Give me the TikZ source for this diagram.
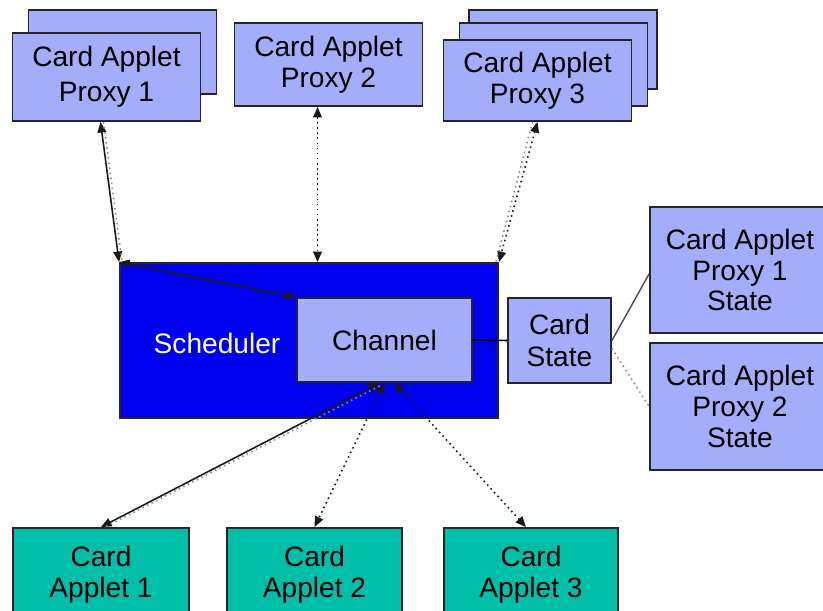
\documentclass[tikz,border=0pt]{standalone}
\usepackage{fontspec}
\setmainfont{Liberation Sans}
\usetikzlibrary{arrows.meta}
\definecolor{proxyblue}{RGB}{163,173,250}
\definecolor{schedblue}{RGB}{0,0,240}
\definecolor{appletgreen}{RGB}{0,191,168}
\begin{document}
\begin{tikzpicture}[x=0.02cm, y=-0.02cm,
	every node/.style = {draw=black!85, line width=1.1pt, align=center, inner sep=0pt,
		font=\fontsize{16}{17.5}\selectfont},
	proxy/.style = {fill=proxyblue, minimum width=3.76cm, minimum height=1.66cm},
	applet/.style = {fill=appletgreen, minimum width=3.5cm, minimum height=1.88cm},
	link/.style = {line width=0.9pt, black!90,
		{Triangle[length=6pt,width=5pt]}-{Triangle[length=6pt,width=5pt]}},
	dotlink/.style = {link, dotted},
	shade/.style = {line width=0.9pt, black!45, dotted}]
	
	\clip (0,0) rectangle (823,611);
	
	% proxies
	\node[proxy, minimum height=1.68cm] (proxy1b) at (122.5,52) {};
	\node[proxy, minimum height=1.76cm, font=\fontsize{16}{20}\selectfont] (proxy1) at (106.5,77) {Card Applet\\Proxy 1};
	\node[proxy] (proxy2) at (328.5,64.5) {Card Applet\\Proxy 2};
	\node[proxy, minimum height=1.58cm] (proxy3c) at (563,49.5) {};
	\node[proxy] (proxy3b) at (553.5,64.5) {};
	\node[proxy, minimum height=1.62cm] (proxy3) at (537.5,80.5) {Card Applet\\Proxy 3};
	
	% scheduler
	\node[fill=schedblue, minimum width=7.56cm, minimum height=3.1cm] (sched) at (309,340.5) {};
	\node[draw=none, text=white] (schedlabel) at (217,343) {Scheduler};
	\node[proxy, minimum width=3.5cm, minimum height=1.68cm] (chan) at (384.5,340) {Channel};
	\node[proxy, minimum width=2.06cm, minimum height=1.7cm, font=\fontsize{16}{18.5}\selectfont] (cstate) at (559.5,340.5) {Card\\State};
	\node[proxy, minimum width=3.6cm, minimum height=2.52cm] (pstate1) at (740,270) {Card Applet\\Proxy 1\\State};
	\node[proxy, minimum width=3.6cm, minimum height=2.54cm] (pstate2) at (740,406.5) {Card Applet\\Proxy 2\\State};
	
	% applets
	\node[applet, minimum width=3.52cm] (applet1) at (101,575) {Card\\Applet 1};
	\node[applet] (applet2) at (314.5,575) {Card\\Applet 2};
	\node[applet, minimum width=3.48cm] (applet3) at (531,575) {Card\\Applet 3};
	
	% links
	\draw[link] ([xshift=-0.12cm]proxy1.south) -- (sched.north west);
	\draw[shade] ([xshift=-0.06cm]proxy1.south) -- ([xshift=0.06cm]sched.north west);
	\draw[link] (sched.north west) -- (chan.north west);
	\draw[dotlink] ([xshift=-0.22cm]proxy2.south) -- ([xshift=-0.22cm]proxy2.south |- sched.north);
	\draw[dotlink] (proxy3.south) -- (sched.north east);
	\draw[shade] ([xshift=-0.1cm]proxy3.south) -- ([xshift=-0.06cm]sched.north east);
	\draw[line width=0.9pt] (chan.east) -- (cstate.west);
	\draw[line width=0.8pt, black!70] (cstate.east) -- ([yshift=-0.08cm]pstate1.west);
	\draw[shade] ([yshift=-0.16cm]cstate.east) -- (pstate2.west);
	\draw[link] ([xshift=-0.1cm]chan.south) -- (applet1.north);
	\draw[shade] ([xshift=-0.1cm,yshift=-0.06cm]chan.south) -- ([xshift=0.08cm]applet1.north);
	\draw[dotlink] (chan.south) -- (applet2.north);
	\draw[dotlink] ([xshift=0.2cm]chan.south) -- ([xshift=-0.1cm]applet3.north);
\end{tikzpicture}
\end{document}
